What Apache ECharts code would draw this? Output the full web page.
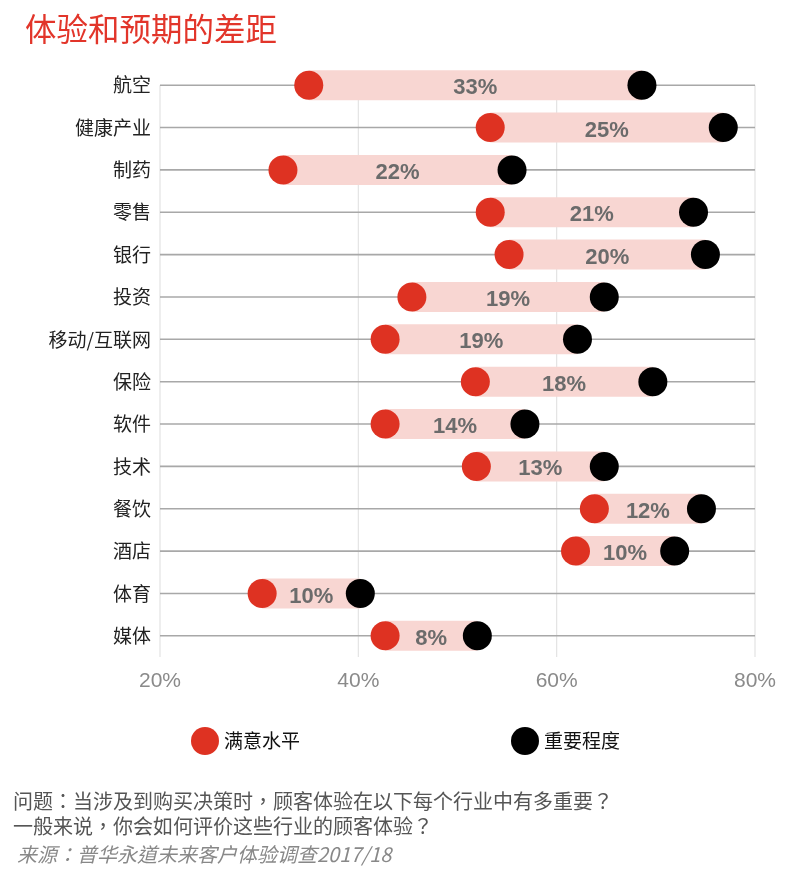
<!DOCTYPE html>
<html>
<head>
<meta charset="utf-8">
<script src="https://cdn.jsdelivr.net/npm/echarts@6/dist/echarts.min.js"></script>
<style>html,body{margin:0;padding:0;background:#fff;}#c{width:800px;height:874px;}</style>
</head>
<body>
<div id="c"></div>
<script>
const categories = ['航空','健康产业','制药','零售','银行','投资','移动/互联网','保险','软件','技术','餐饮','酒店','体育','媒体'];
const satisfaction = [35.0,53.3,32.4,53.3,55.2,45.4,42.7,51.8,42.7,51.9,63.8,61.9,30.3,42.7];
const importance  = [68.6,76.8,55.5,73.8,75.0,64.8,62.1,69.7,56.8,64.8,74.6,71.9,40.2,52.0];
const gapLabels = ['33%','25%','22%','21%','20%','19%','19%','18%','14%','13%','12%','10%','10%','8%'];
const xTicks = [20,40,60,80];

const CJK = '"Noto Sans CJK SC", "Noto Sans", sans-serif';
const CJKTC = '"Noto Sans CJK TC", "Noto Sans CJK SC", sans-serif';
const LAT = '"Liberation Sans", Arial, sans-serif';

const chart = echarts.init(document.getElementById('c'), null, {renderer:'canvas'});
const rows = categories.map((c,i)=>[satisfaction[i], importance[i], i]);

chart.setOption({
  animation:false,
  backgroundColor:'#fff',
  title:{text:'体验和预期的差距', left:20, top:8,
    textStyle:{color:'#e2352a', fontSize:31.5, fontWeight:'normal', fontFamily:CJK}},
  legend:{
    data:['满意水平','重要程度'], left:186, top:722, itemWidth:28, itemHeight:28, itemGap:211,
    icon:'circle',
    textStyle:{fontSize:19, color:'#111', fontFamily:CJK}
  },
  grid:{left:160, right:45, top:64, bottom:217, containLabel:false},
  xAxis:{type:'value', min:20, max:80, interval:20,
    axisLine:{show:false}, axisTick:{show:false}, splitLine:{show:false},
    axisLabel:{formatter:'{value}%', color:'#8a8a8a', fontSize:21, fontFamily:LAT, margin:14}},
  yAxis:{type:'category', data:categories, inverse:true,
    axisLine:{show:false}, axisTick:{show:false}, splitLine:{show:false},
    axisLabel:{color:'#222', fontSize:19, fontFamily:CJK, margin:9}},
  series:[
    {type:'custom', silent:true, z:1,
      data:xTicks.map(v=>[v]),
      encode:{x:0},
      renderItem:(params, api)=>{
        const v = api.value(0);
        const top = api.coord([v, 0]);
        const bot = api.coord([v, categories.length-1]);
        const band = api.size([0,1])[1];
        return {type:'line', shape:{x1:top[0], y1:top[1], x2:bot[0], y2:bot[1]+band/2},
          style:{stroke:'#e3e3e3', lineWidth:1.2}};
      }},
    {type:'custom', silent:true, z:2,
      data:rows, encode:{x:[0,1], y:2},
      renderItem:(params, api)=>{
        const i = api.value(2);
        const a = api.coord([20, i]);
        const b = api.coord([80, i]);
        return {type:'line', shape:{x1:a[0], y1:a[1], x2:b[0], y2:b[1]},
          style:{stroke:'#a8a8a8', lineWidth:1.6}};
      }},
    {type:'custom', silent:true, z:3,
      data:rows, encode:{x:[0,1], y:2},
      renderItem:(params, api)=>{
        const i = api.value(2);
        const a = api.coord([api.value(0), i]);
        const b = api.coord([api.value(1), i]);
        const h = 30;
        return {type:'group', children:[
          {type:'rect', shape:{x:a[0], y:a[1]-h/2, width:b[0]-a[0], height:h},
            style:{fill:'#f8d6d2'}},
          {type:'text', z2:10, style:{text:gapLabels[params.dataIndex], x:(a[0]+b[0])/2, y:a[1]+3,
            align:'center', verticalAlign:'middle', fill:'#6b6b6b',
            font:'bold 22px "Liberation Sans", Arial, sans-serif'}}
        ]};
      }},
    {name:'满意水平', type:'scatter', z:5, symbol:'circle', symbolSize:29,
      itemStyle:{color:'#de3222', opacity:1},
      data:satisfaction.map((v,i)=>[v,i])},
    {name:'重要程度', type:'scatter', z:5, symbol:'circle', symbolSize:29,
      itemStyle:{color:'#000', opacity:1},
      data:importance.map((v,i)=>[v,i])}
  ],
  graphic:[
    {type:'text', left:13, top:791, style:{text:'问题：当涉及到购买决策时，顾客体验在以下每个行业中有多重要？', fill:'#555', font:'20px '+CJKTC}},
    {type:'text', left:13, top:816, style:{text:'一般来说，你会如何评价这些行业的顾客体验？', fill:'#555', font:'20px '+CJKTC}},
    {type:'text', left:17, top:844, style:{text:'来源：普华永道未来客户体验调查2017/18', fill:'#888', font:'italic 20px '+CJKTC}}
  ]
});
</script>
</body>
</html>
